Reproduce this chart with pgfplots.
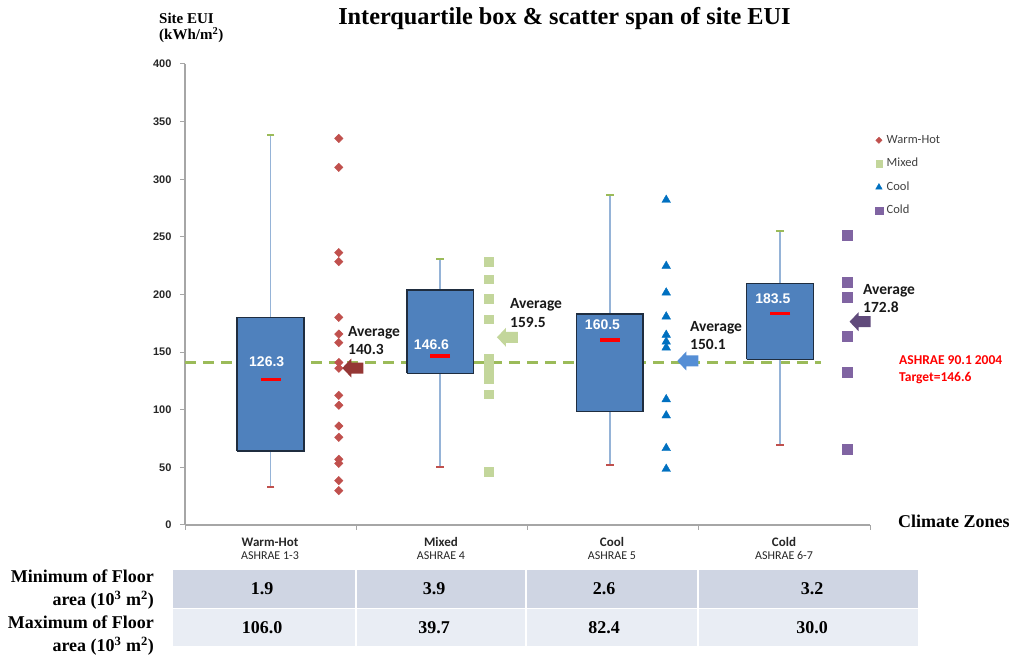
\documentclass[border=0pt]{standalone}
\usepackage{fontspec}
\usepackage{pgfplots}
\pgfplotsset{compat=1.18}
\setmainfont{Liberation Serif}
\newfontfamily\carlito{Carlito}
\newfontfamily\arialf{Liberation Sans}
\definecolor{boxblue}{HTML}{4F81BD}
\definecolor{boxedge}{HTML}{1F2D3F}
\definecolor{whisk}{HTML}{95B3D7}
\definecolor{capgreen}{HTML}{9BBB59}
\definecolor{capred}{HTML}{C0504D}
\definecolor{tgreen}{HTML}{9BBB59}
\definecolor{whred}{HTML}{C0504D}
\definecolor{mixgreen}{HTML}{C3D69B}
\definecolor{coolblue}{HTML}{0070C0}
\definecolor{coldpurple}{HTML}{8064A2}
\definecolor{arrwh}{HTML}{953735}
\definecolor{arrmix}{HTML}{C3D69B}
\definecolor{arrcool}{HTML}{558ED5}
\definecolor{arrcold}{HTML}{604A7B}
\definecolor{rowa}{HTML}{CFD5E3}
\definecolor{rowb}{HTML}{E9EDF4}
\definecolor{axgray}{HTML}{A6A6A6}

\pgfdeclareplotmark{larrow}{%
  \pgfpathmoveto{\pgfqpoint{-10.5pt}{0pt}}%
  \pgfpathlineto{\pgfqpoint{-1.5pt}{9.5pt}}%
  \pgfpathlineto{\pgfqpoint{-1.5pt}{5.5pt}}%
  \pgfpathlineto{\pgfqpoint{10.5pt}{5.5pt}}%
  \pgfpathlineto{\pgfqpoint{10.5pt}{-5.5pt}}%
  \pgfpathlineto{\pgfqpoint{-1.5pt}{-5.5pt}}%
  \pgfpathlineto{\pgfqpoint{-1.5pt}{-9.5pt}}%
  \pgfpathclose
  \pgfusepathqfill
}

\pgfplotsset{
  boxst/.style={forget plot, fill=boxblue, draw=boxedge, line width=1.5pt, line join=miter},
  whst/.style={forget plot, draw=whisk, line width=1.6pt},
}

% scatter data (site EUI, kWh/m2)
\pgfplotstableread{
x y
0.398 335.4
0.398 310.3
0.398 236.3
0.398 228.5
0.398 180.2
0.398 165.7
0.398 158.2
0.398 141.0
0.398 136.0
0.398 112.5
0.398 103.9
0.398 85.9
0.398 76.1
0.398 57.0
0.398 53.5
0.398 38.5
0.398 29.8
}\whdata
\pgfplotstableread{
x y
1.273 228.5
1.273 213.4
1.273 196.1
1.273 178.7
1.273 144.6
1.273 140.0
1.273 135.5
1.273 131.0
1.273 126.7
1.273 113.4
1.273 46.3
}\mixdata
\pgfplotstableread{
x y
2.31 282.0
2.31 224.7
2.31 201.6
2.31 180.8
2.31 164.9
2.31 159.0
2.31 153.9
2.31 109.0
2.31 95.0
2.31 66.6
2.31 48.6
}\cooldata
\pgfplotstableread{
x y
3.366 251.6
3.366 210.6
3.366 197.6
3.366 164.0
3.366 132.8
3.366 65.7
}\colddata

\begin{document}
\begin{tikzpicture}
\useasboundingbox (0pt,0pt) rectangle (1013pt,656pt);
\begin{scope}[x=1pt,y=1pt]
% table
\fill[rowa] (173,86) rectangle (355,48);
\fill[rowa] (357,86) rectangle (525,48);
\fill[rowa] (527,86) rectangle (697,48);
\fill[rowa] (699,86) rectangle (918,48);
\fill[rowb] (173,47) rectangle (355,10);
\fill[rowb] (357,47) rectangle (525,10);
\fill[rowb] (527,47) rectangle (697,10);
\fill[rowb] (699,47) rectangle (918,10);
\end{scope}

\begin{axis}[
  at={(185pt,131pt)}, anchor=south west,
  scale only axis, width=685pt, height=461pt,
  xmin=-0.5, xmax=3.5, ymin=0, ymax=400,
  axis lines*=left,
  axis line style={draw=axgray, line width=1.3pt},
  xtick={-0.5,0.5,1.5,2.5,3.5}, xticklabels={},
  ytick={0,50,...,400},
  tick align=outside, major tick length=5pt,
  tick style={draw=axgray, line width=1pt},
  yticklabel style={font=\arialf\bfseries\fontsize{11}{13}\selectfont, text=black!85, xshift=-5pt},
  /pgf/number format/assume math mode=true,
  clip=false,
  legend cell align=left,
  legend image code/.code={\draw[mark repeat=2,mark phase=2,#1,every mark/.append style={scale=0.75}] plot coordinates {(-1pt,0pt)(0pt,0pt)(1pt,0pt)};},
  legend style={draw=none, fill=none, at={(axis description cs:1.0073,0.848)}, anchor=north west,
    font=\carlito\fontsize{12.5}{14}\selectfont, text=black!75,
    row sep=11.5pt, inner sep=0pt,
    nodes={inner sep=0pt, text height=9pt, text depth=3pt},
    /tikz/every odd column/.append style={column sep=4pt}},
]
% target line
\addplot[forget plot, tgreen, line width=2.8pt, dash pattern=on 11pt off 7pt] coordinates {(-0.5,141) (3.214,141)};
% whiskers (upper quartile -> max, lower quartile -> min)
\addplot[whst] coordinates {(0,180) (0,338)};
\addplot[whst] coordinates {(0,64) (0,33)};
\addplot[whst] coordinates {(0.99,204) (0.99,231)};
\addplot[whst] coordinates {(0.99,131.6) (0.99,50)};
\addplot[whst] coordinates {(1.98,183) (1.98,286)};
\addplot[whst] coordinates {(1.98,98.3) (1.98,52)};
\addplot[whst] coordinates {(2.975,209.4) (2.975,255.4)};
\addplot[whst] coordinates {(2.975,143.7) (2.975,69)};
% interquartile boxes
\addplot[boxst] coordinates {(-0.195,64) (0.195,64) (0.195,180) (-0.195,180) (-0.195,64)};
\addplot[boxst] coordinates {(0.795,131.6) (1.185,131.6) (1.185,204) (0.795,204) (0.795,131.6)};
\addplot[boxst] coordinates {(1.785,98.3) (2.175,98.3) (2.175,183) (1.785,183) (1.785,98.3)};
\addplot[boxst] coordinates {(2.78,143.7) (3.17,143.7) (3.17,209.4) (2.78,209.4) (2.78,143.7)};
% medians
\addplot[forget plot, only marks, mark=-, mark size=10pt, mark options={line width=3.5pt, draw=red}] coordinates {(0,126.3) (0.99,146.6) (1.98,160.5) (2.975,183.5)};
% whisker caps
\addplot[forget plot, only marks, mark=-, mark size=3.8pt, mark options={line width=2pt, draw=capgreen}] coordinates {(0,338) (0.99,231) (1.98,286) (2.975,255.4)};
\addplot[forget plot, only marks, mark=-, mark size=3.8pt, mark options={line width=2pt, draw=capred}] coordinates {(0,33) (0.99,50) (1.98,52) (2.975,69)};
% scatter
\addplot[only marks, mark=square*, mark size=3pt, mark options={rotate=45, fill=whred, draw=whred}] table[x=x,y=y] {\whdata};
\addlegendentry{Warm-Hot}
\addplot[only marks, mark=square*, mark size=4.3pt, mark options={fill=mixgreen, draw=mixgreen}] table[x=x,y=y] {\mixdata};
\addlegendentry{Mixed}
\addplot[only marks, mark=triangle*, mark size=5pt, mark options={fill=coolblue, draw=coolblue}] table[x=x,y=y] {\cooldata};
\addlegendentry{Cool}
\addplot[only marks, mark=square*, mark size=5pt, mark options={fill=coldpurple, draw=coldpurple}] table[x=x,y=y] {\colddata};
\addlegendentry{Cold}
% average arrows
\addplot[forget plot, only marks, mark=larrow, color=arrwh] coordinates {(0.480,136.2)};
\addplot[forget plot, only marks, mark=larrow, color=arrmix] coordinates {(1.383,162.9)};
\addplot[forget plot, only marks, mark=larrow, color=arrcool] coordinates {(2.436,142.3)};
\addplot[forget plot, only marks, mark=larrow, color=arrcold] coordinates {(3.442,176.4)};
\end{axis}

\begin{scope}[x=1pt,y=1pt]
% title and axis titles
\node[font=\bfseries\fontsize{24.3}{28}\selectfont] at (564.5,637) {Interquartile box \& scatter span of site EUI};
\node[anchor=base west, inner sep=0, font=\bfseries\fontsize{15}{17}\selectfont] at (159,632.7) {Site EUI};
\node[anchor=base west, inner sep=0, font=\bfseries\fontsize{15}{17}\selectfont] at (159,616) {(kWh/m\textsuperscript{2})};
\node[anchor=base west, inner sep=0, font=\bfseries\fontsize{18}{20}\selectfont] at (898,128.3) {Climate Zones};

% category labels
\foreach \cx/\nm/\sub in {270/Warm-Hot/ASHRAE 1-3, 441/Mixed/ASHRAE 4, 612/Cool/ASHRAE 5, 784/Cold/ASHRAE 6-7}{
  \node[anchor=base, inner sep=0, font=\carlito\bfseries\fontsize{13}{15}\selectfont, text=black!85] at (\cx,109.8) {\nm};
  \node[anchor=base, inner sep=0, font=\carlito\fontsize{12}{14}\selectfont, text=black!85] at (\cx,96) {\sub};
}

% box value labels
\begin{scope}[every node/.style={anchor=base, inner sep=0, text=white, font=\arialf\bfseries\fontsize{14}{16}\selectfont}]
\node at (266.7,289) {126.3};
\node at (431.5,306.7) {146.6};
\node at (602.5,326.7) {160.5};
\node at (772.8,352.3) {183.5};
\end{scope}

% average labels
\begin{scope}[every node/.style={anchor=base west, inner sep=0, text=black!90, font=\carlito\bfseries\fontsize{15.5}{17}\selectfont}]
\node at (348,319.3) {Average};
\node at (348,301.7) {140.3};
\node at (510,347) {Average};
\node at (510,328.3) {159.5};
\node at (690,324.3) {Average};
\node at (690,306.7) {150.1};
\node at (863,361.7) {Average};
\node at (863,343.3) {172.8};
\end{scope}

% target label
\node[anchor=base west, inner sep=0, text=red, font=\carlito\bfseries\fontsize{13.5}{15}\selectfont] at (899,291.7) {ASHRAE 90.1 2004};
\node[anchor=base west, inner sep=0, text=red, font=\carlito\bfseries\fontsize{13.5}{15}\selectfont] at (899,274.7) {Target=146.6};

% table text
\begin{scope}[every node/.style={anchor=base east, inner sep=0, font=\bfseries\fontsize{18}{20}\selectfont}]
\node at (154,73) {Minimum of Floor};
\node at (154,50) {area (10\textsuperscript{3} m\textsuperscript{2})};
\node at (154,27) {Maximum of Floor};
\node at (154,4) {area (10\textsuperscript{3} m\textsuperscript{2})};
\end{scope}
\begin{scope}[every node/.style={anchor=base, inner sep=0, font=\bfseries\fontsize{18}{20}\selectfont}]
\node at (262,61) {1.9};
\node at (434,61) {3.9};
\node at (604,61) {2.6};
\node at (812,61) {3.2};
\node at (262,22) {106.0};
\node at (434,22) {39.7};
\node at (604,22) {82.4};
\node at (812,22) {30.0};
\end{scope}
\end{scope}
\end{tikzpicture}
\end{document}
